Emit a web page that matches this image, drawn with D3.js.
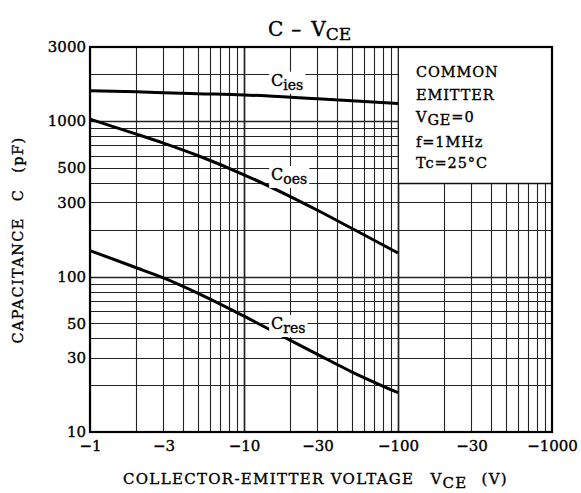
<!DOCTYPE html>
<html>
<head>
<meta charset="utf-8">
<script src="https://cdn.jsdelivr.net/npm/d3@7"></script>
<style>
  html, body { margin: 0; padding: 0; background: #fff; }
  svg { display: block; font-family: "DejaVu Serif", serif; }
  svg text { stroke: #000; stroke-width: 0.35px; }
</style>
</head>
<body>
<div id="chart"></div>
<script>
// collector-emitter voltage (V) and capacitances (pF)
const vce  = [-1, -2, -3, -5, -10, -20, -30, -50, -100];
const cies = [1570, 1545, 1525, 1503, 1475, 1425, 1392, 1352, 1300];
const coes = [1030, 826, 722, 601, 452, 327, 267, 204.5, 141.7];
const cres = [147, 114, 98, 78.2, 55.6, 38.9, 31.6, 24.4, 17.9];

// tick labels (the sheet really prints "-30" twice)
const xTickVals = [1, 3, 10, 30, 100, 300, 1000];
const xTickText = ["\u22121", "\u22123", "\u221210", "\u221230", "\u2212100", "\u221230", "\u22121000"];
const yTickVals = [10, 30, 50, 100, 300, 500, 1000, 3000];

// grid multipliers per decade
const gridMult = [1, 2, 3, 4, 5, 6, 7, 8, 9];

// conditions text box
const notes = ["COMMON", "EMITTER", "V|GE|=0", "f=1MHz", "Tc=25\u00b0C"];

const width = 581, height = 493;
const margin = { top: 47, right: 29, bottom: 61, left: 90 };

const svg = d3.select("#chart").append("svg")
    .attr("width", width)
    .attr("height", height);

const x = d3.scaleLog().domain([1, 1000]).range([margin.left, width - margin.right]);
const y = d3.scaleLog().domain([10, 3000]).range([height - margin.bottom, margin.top]);

const grid = svg.append("g").attr("stroke", "#222").attr("fill", "none");

// horizontal lines: 10..1000 every step, then 2000
const hLines = [];
[10, 100].forEach(d => gridMult.forEach(m => hLines.push(d * m)));
hLines.push(1000, 2000);
grid.selectAll("line.h").data(hLines).enter().append("line")
    .attr("x1", x(1)).attr("x2", x(1000))
    .attr("y1", d => Math.round(y(d)) + 0.5).attr("y2", d => Math.round(y(d)) + 0.5)
    .attr("stroke-width", d => (d === 100 || d === 1000) ? 1.7 : 1.1);

// vertical lines
const vLines = [];
[1, 10, 100].forEach(d => gridMult.forEach(m => vLines.push(d * m)));
grid.selectAll("line.v").data(vLines).enter().append("line")
    .attr("x1", d => Math.round(x(d)) + 0.5).attr("x2", d => Math.round(x(d)) + 0.5)
    .attr("y1", y(3000)).attr("y2", y(10))
    .attr("stroke-width", d => (d === 10 || d === 100) ? 1.7 : 1.1);

// white conditions box over the top of the last decade
svg.append("rect")
    .attr("x", x(100) + 1)
    .attr("y", y(3000))
    .attr("width", x(1000) - x(100) - 1)
    .attr("height", y(400) - y(3000))
    .attr("fill", "#fff")
    .attr("stroke", "none");
svg.append("line")
    .attr("x1", x(100)).attr("x2", x(1000))
    .attr("y1", Math.round(y(400)) + 0.5).attr("y2", Math.round(y(400)) + 0.5)
    .attr("stroke", "#111").attr("stroke-width", 1.4);

const noteG = svg.append("g").attr("font-size", 14.5).attr("fill", "#000")
    .attr("letter-spacing", 0.9);
const noteY = [77, 100, 122, 147, 168];
notes.forEach((t, i) => {
    const txt = noteG.append("text").attr("x", 416).attr("y", noteY[i]);
    const parts = t.split("|");
    txt.append("tspan").text(parts[0]);
    if (parts.length > 1) {
        txt.append("tspan").attr("dy", 3).text(parts[1]);
        txt.append("tspan").attr("dy", -3).text(parts[2]);
    }
});

// curves
const line = d3.line()
    .x(d => x(Math.abs(d[0])))
    .y(d => y(d[1]))
    .curve(d3.curveMonotoneX);

const series = [
    { name: "ies", vals: cies, lab: [15, 1690] },
    { name: "oes", vals: coes, lab: [15, 418] },
    { name: "res", vals: cres, lab: [15, 46] }
];

svg.append("g").selectAll("path").data(series).enter().append("path")
    .attr("d", s => line(vce.map((v, i) => [v, s.vals[i]])))
    .attr("fill", "none")
    .attr("stroke", "#000")
    .attr("stroke-width", 3);

// curve labels with white backing
series.forEach(s => {
    const g = svg.append("g");
    const t = g.append("text")
        .attr("x", x(s.lab[0]))
        .attr("y", y(s.lab[1]))
        .attr("font-size", 16)
        .attr("fill", "#000");
    t.append("tspan").text("C");
    t.append("tspan").attr("dy", 4).attr("font-size", 14).text(s.name);
    const bb = t.node().getBBox();
    g.insert("rect", "text")
        .attr("x", bb.x - 2).attr("y", bb.y + 1)
        .attr("width", bb.width + 4).attr("height", bb.height)
        .attr("fill", "#fff").attr("stroke", "none");
});

// frame
svg.append("rect")
    .attr("x", x(1)).attr("y", y(3000))
    .attr("width", x(1000) - x(1)).attr("height", y(10) - y(3000))
    .attr("fill", "none").attr("stroke", "#000").attr("stroke-width", 2.2);

// axes
const yAxis = svg.append("g")
    .attr("transform", `translate(${x(1)},0)`)
    .call(d3.axisLeft(y).tickValues(yTickVals).tickSize(0).tickPadding(4).tickFormat(d3.format("d")));
yAxis.select(".domain").remove();
yAxis.selectAll("text").attr("font-size", 15).attr("font-family", "DejaVu Serif").attr("fill", "#000");

const xAxis = svg.append("g")
    .attr("transform", `translate(0,${y(10)})`)
    .call(d3.axisBottom(x).tickValues(xTickVals).tickSize(0).tickPadding(8)
        .tickFormat((d, i) => xTickText[i]));
xAxis.select(".domain").remove();
xAxis.selectAll("text").attr("font-size", 15).attr("font-family", "DejaVu Serif").attr("fill", "#000");

// title
const title = svg.append("text")
    .attr("x", 268).attr("y", 36)
    .attr("font-size", 20)
    .attr("fill", "#000");
title.append("tspan").text("C");
title.append("tspan").attr("dx", 8).text("\u2013");
title.append("tspan").attr("dx", 10).text("V");
title.append("tspan").attr("dy", 4).attr("font-size", 17).text("CE");

// axis titles
const xt = svg.append("text")
    .attr("x", 123).attr("y", 484)
    .attr("font-size", 15)
    .attr("letter-spacing", 1.3)
    .attr("fill", "#000");
xt.append("tspan").text("COLLECTOR-EMITTER VOLTAGE");
xt.append("tspan").attr("dx", 16).text("V");
xt.append("tspan").attr("dy", 4).text("CE");
xt.append("tspan").attr("dy", -4).attr("dx", 14).text("(V)");

const yt = svg.append("text")
    .attr("transform", "translate(23,240) rotate(-90)")
    .attr("text-anchor", "middle")
    .attr("font-size", 14.5)
    .attr("letter-spacing", 1.4)
    .attr("fill", "#000");
yt.append("tspan").text("CAPACITANCE");
yt.append("tspan").attr("dx", 16).text("C");
yt.append("tspan").attr("dx", 16).text("(pF)");
</script>
</body>
</html>
